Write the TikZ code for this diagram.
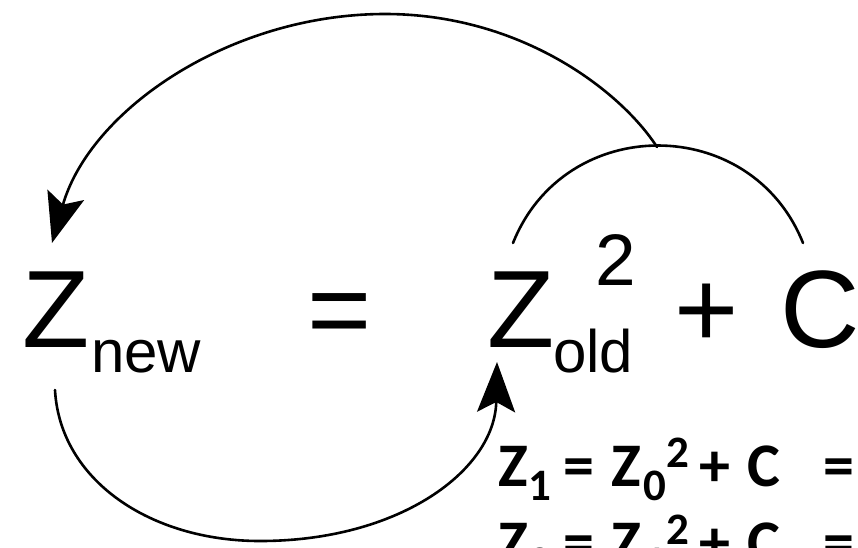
\documentclass[tikz,border=0pt]{standalone}
\usepackage{fontspec}
\usetikzlibrary{arrows.meta}
\newfontfamily\eqfont{Liberation Sans}
\newfontfamily\iterfont{Carlito}

\begin{document}
\begin{tikzpicture}[x=1pt,y=-1pt,line cap=round,line join=round,
  big/.style={anchor=base west,inner sep=0pt,font=\eqfont\fontsize{110}{110}\selectfont},
  sub/.style={anchor=base west,inner sep=0pt,font=\eqfont\fontsize{60}{60}\selectfont},
  sup/.style={anchor=base west,inner sep=0pt,font=\eqfont\fontsize{73}{73}\selectfont},
  iterbig/.style={anchor=base west,inner sep=0pt,font=\iterfont\bfseries\fontsize{62}{62}\selectfont},
  itersmall/.style={anchor=base west,inner sep=0pt,font=\iterfont\bfseries\fontsize{45}{45}\selectfont},
  loop/.style={line width=2.6pt},
  loopend/.style={loop,-{Stealth[length=50pt,width=38pt,inset=10pt]}}]
  \useasboundingbox (0,0) rectangle (858,547);
  \clip (0,0) rectangle (858,547);
  % the formula
  \node[big] (znew) at (22,347) {Z};
  \node[sub] (new) at (91,372) {new};
  \node[big] (eq) at (307,347) {=};
  \node[big] (zold) at (487,347) {Z};
  \node[sub] (old) at (553,372) {old};
  \node[sup] (sq) at (595,285) {2};
  \node[big] (plus) at (674,347) {+};
  \node[big] (c) at (780,347) {C};
  % loop ends
  \coordinate (sqL) at (513,243);
  \coordinate (sqR) at (803,243);
  \coordinate (top) at (657,147);
  \coordinate (newin) at (52,243);
  \coordinate (newout) at (55,390);
  \coordinate (oldin) at (497,362);
  \draw[loop] (sqL) .. controls (565,113) and (751,113) .. (sqR);
  \draw[loopend] (top) .. controls (620,90) and (520,14) .. (385,14)
    .. controls (230,14) and (90,110) .. (newin);
  \draw[loopend] (newout) .. controls (60,480) and (150,541) .. (260,541)
    .. controls (400,541) and (495,470) .. (oldin);
  % iterations
  \foreach \r/\lhs/\rhs in {0/1/0,1/2/1} {
    \node[iterbig] (z\r) at (498,486+77*\r) {Z};
    \node[itersmall] (zs\r) at (528,500+77*\r) {\lhs};
    \node[iterbig] (eqa\r) at (563,486+77*\r) {=};
    \node[iterbig] (zz\r) at (611,486+77*\r) {Z};
    \node[itersmall] (zzs\r) at (643,500+77*\r) {\rhs};
    \node[itersmall] (zsq\r) at (666,467+77*\r) {2};
    \node[iterbig] (p\r) at (699,486+77*\r) {+};
    \node[iterbig] (c\r) at (747,486+77*\r) {C};
    \node[iterbig] (eqb\r) at (823,486+77*\r) {=};
  }
\end{tikzpicture}
\end{document}
